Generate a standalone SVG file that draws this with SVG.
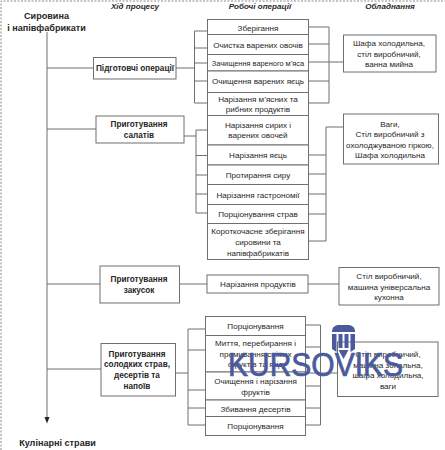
<svg xmlns="http://www.w3.org/2000/svg" width="445" height="450" viewBox="0 0 445 450">
<style>
.b{fill:#fff;stroke:#6f6f6f;stroke-width:1}
.c{fill:none;stroke:#6f6f6f;stroke-width:1}
text{font-family:"Liberation Sans",Arial,sans-serif;fill:#262626;text-anchor:middle}
.n{font-size:8.1px}
.s{font-size:7.4px}
.h{font-size:8.2px;font-weight:bold}
.t{font-size:9.1px;font-weight:bold}
.i{font-size:8.1px;font-weight:bold;font-style:italic}
</style>
<path d="M1 450V1H445" fill="none" stroke="#8a8a8a" stroke-width="1" stroke-dasharray="2 1.5"/>
<g id="headers">
<text class="i" x="135" y="9">Хід процесу</text>
<text class="i" x="260" y="9">Робочі операції</text>
<text class="i" x="390" y="9">Обладнання</text>
</g>
<g id="connectors">
<path class="c" d="M47 32V419"/>
<path d="M44.500 417H49.500L47 423.500z" fill="#222"/>
<path class="c" d="M47 68H93.500M47 129H96M47 284H100M47 369H101"/>
<path class="c" d="M176 68H194.500M194.500 31V103M194.500 31H208M194.500 48H208M194.500 63H208M194.500 81H208M194.500 103H208"/>
<path class="c" d="M308.500 27H329M308.500 44H329M308.500 62H343.500M308.500 81H329M308.500 103H329M329 27V103"/>
<path class="c" d="M184 136H196M196 130V213M196 130H208M196 155.500H208M196 175H208M196 194H208M196 213H208"/>
<path class="c" d="M308.500 155H326M308.500 174H326M308.500 194H326M308.500 214H326M308.500 241H326M326 127V241M326 127H343.500"/>
<path class="c" d="M179.500 284H207M308 284H339"/>
<path class="c" d="M175.500 373H188M188 329V425M188 329H205.500M188 350H205.500M188 390H205.500M188 408H205.500M188 425H205.500"/>
<path class="c" d="M305.500 325H320.500M305.500 347H320.500M305.500 386H320.500M305.500 408H320.500M305.500 425H320.500M320.500 325V425M305.500 373H337.500"/>
</g>
<g id="start"><text class="t" x="46.500" y="19">Сировина</text><text class="t" x="46.500" y="31">і напівфабрикати</text></g>
<g id="end"><text class="t" x="57.500" y="446">Кулінарні страви</text></g>

<g id="p1"><rect class="b" x="93.500" y="57.500" width="82.500" height="21.500"/><text class="h" x="135" y="71">Підготовчі операції</text></g>
<g id="p2"><rect class="b" x="96" y="116" width="88" height="27"/><text class="h" x="139" y="127">Приготування</text><text class="h" x="139" y="138">салатів</text></g>
<g id="p3"><rect class="b" x="100" y="266" width="79.500" height="37"/><text class="h" x="139" y="282">Приготування</text><text class="h" x="139" y="292.500">закусок</text></g>
<g id="p4"><rect class="b" x="101" y="343.500" width="74.500" height="52.500"/><text class="h" x="137" y="356.500">Приготування</text><text class="h" x="137" y="367">солодких страв,</text><text class="h" x="137" y="377.500">десертів та</text><text class="h" x="137" y="388.500">напоїв</text></g>

<g id="w1"><rect class="b" x="207.500" y="19.500" width="101" height="15"/><text class="n" x="258" y="30.500">Зберігання</text></g>
<g id="w2"><rect class="b" x="207.500" y="34.500" width="101" height="20"/><text class="n" x="258" y="48">Очистка варених овочів</text></g>
<g id="w3"><rect class="b" x="207.500" y="54.500" width="101" height="16.500"/><text class="s" x="258" y="65.500">Зачищення вареного м’яса</text></g>
<g id="w4"><rect class="b" x="207.500" y="71" width="101" height="21.500"/><text class="n" x="258" y="84">Очищення варених яєць</text></g>
<g id="w5"><rect class="b" x="207.500" y="92.500" width="101" height="23"/><text class="n" x="258" y="102">Нарізання м’ясних та</text><text class="n" x="258" y="112">рибних продуктів</text></g>
<g id="w6"><rect class="b" x="207.500" y="115.500" width="101" height="29.500"/><text class="n" x="258" y="128">Нарізання сирих і</text><text class="n" x="258" y="138">варених овочей</text></g>
<g id="w7"><rect class="b" x="207.500" y="145" width="101" height="20"/><text class="n" x="258" y="158">Нарізання яєць</text></g>
<g id="w8"><rect class="b" x="207.500" y="165" width="101" height="19.500"/><text class="n" x="258" y="178">Протирання сиру</text></g>
<g id="w9"><rect class="b" x="207.500" y="184.500" width="101" height="20"/><text class="n" x="258" y="198">Нарізання гастрономії</text></g>
<g id="w10"><rect class="b" x="207.500" y="204.500" width="101" height="19"/><text class="n" x="258" y="217">Порціонування страв</text></g>
<g id="w11"><rect class="b" x="207.500" y="223.500" width="101" height="36"/><text class="n" x="258" y="234">Короткочасне зберігання</text><text class="n" x="258" y="244.500">сировини та</text><text class="n" x="258" y="255.500">напівфабрикатів</text></g>
<g id="w12"><rect class="b" x="207" y="275" width="101" height="18"/><text class="n" x="258" y="286.500">Нарізання продуктів</text></g>
<g id="w13"><rect class="b" x="205.500" y="316.500" width="100" height="19"/><text class="n" x="255.500" y="329">Порціонування</text></g>
<g id="w14"><rect class="b" x="205.500" y="335.500" width="100" height="36.500"/><text class="n" x="255.500" y="346">Миття, перебирання і</text><text class="n" x="255.500" y="356.500">промивання свіжих</text><text class="n" x="255.500" y="367">фруктів та ягід</text></g>
<g id="w15"><rect class="b" x="205.500" y="372" width="100" height="28"/><text class="n" x="255.500" y="384">Очищення і нарізання</text><text class="n" x="255.500" y="394.500">фруктів</text></g>
<g id="w16"><rect class="b" x="205.500" y="400" width="100" height="16.500"/><text class="n" x="255.500" y="411.500">Збивання десертів</text></g>
<g id="w17"><rect class="b" x="205.500" y="416.500" width="100" height="19"/><text class="n" x="255.500" y="429">Порціонування</text></g>

<g id="e1"><rect class="b" x="343.500" y="35" width="92.500" height="37"/><text class="n" x="389" y="46">Шафа холодильна,</text><text class="n" x="389" y="56.500">стіл виробничий,</text><text class="n" x="389" y="67">ванна мийна</text></g>
<g id="e2"><rect class="b" x="343.500" y="114" width="95" height="50"/><text class="n" x="390" y="126.500">Ваги,</text><text class="n" x="390" y="137">Стіл виробничий з</text><text class="n" x="390" y="147.500">охолоджуваною гіркою,</text><text class="n" x="390" y="158">Шафа холодильна</text></g>
<g id="e3"><rect class="b" x="339" y="267.500" width="100" height="37.500"/><text class="n" x="389" y="278.500">Стіл виробничий,</text><text class="n" x="389" y="289.500">машина універсальна</text><text class="n" x="389" y="300">кухонна</text></g>
<g id="e4"><rect class="b" x="337.500" y="342" width="100.500" height="54.500"/><text class="n" x="388" y="357">Стіл виробничий,</text><text class="n" x="388" y="367.500">машина зональна,</text><text class="n" x="388" y="378">шафа холодильна,</text><text class="n" x="388" y="388.500">ваги</text></g>

<g id="watermark" fill="#4a5a9c">
<path d="M332 332C332 327 335 325 339 325H348C352 325 355 327 355 332z"/>
<path d="M332 334H336.500V352L332 349zM350.500 334H355V349L350.500 352zM338.500 334H342.500V348H338.500zM344.500 334H348.500V348H344.500zM338.500 350H348.500L343.500 359z"/>
<text x="315.500" y="376" font-size="33" textLength="175" lengthAdjust="spacingAndGlyphs" style="fill:#4a5a9c;stroke:#4a5a9c;stroke-width:.7">KURSOVIKS</text>
</g>
</svg>
